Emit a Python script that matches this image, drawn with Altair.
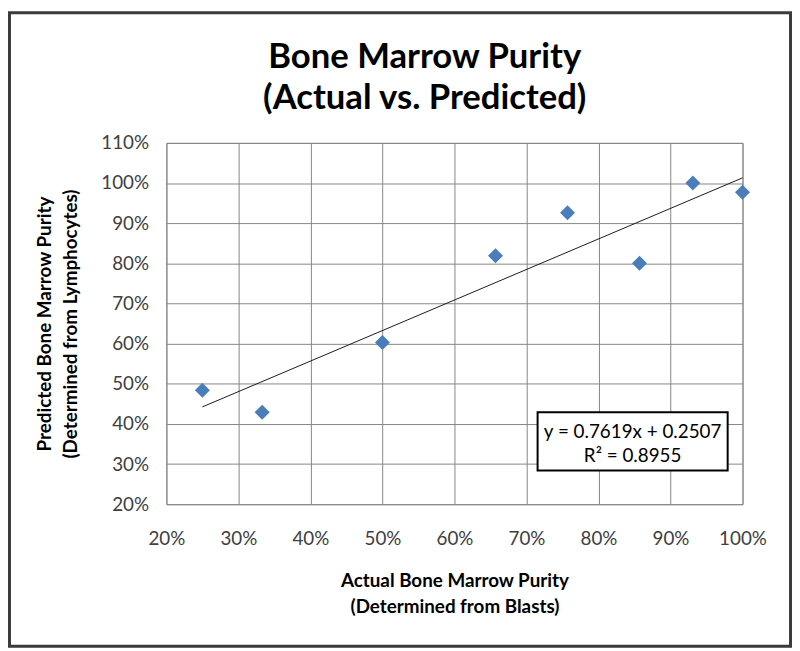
import altair as alt
import pandas as pd

# Data
actual = [0.25, 0.333, 0.50, 0.657, 0.757, 0.857, 0.931, 1.00]
predicted = [0.484, 0.429, 0.603, 0.819, 0.926, 0.800, 1.000, 0.977]
x_ticks = [0.2, 0.3, 0.4, 0.5, 0.6, 0.7, 0.8, 0.9, 1.0]
y_ticks = [0.2, 0.3, 0.4, 0.5, 0.6, 0.7, 0.8, 0.9, 1.0, 1.1]
eq_lines = ["y = 0.7619x + 0.2507", "R² = 0.8955"]
title_lines = ["Bone Marrow Purity", "(Actual vs. Predicted)"]

df = pd.DataFrame({"actual": actual, "predicted": predicted})
FONT = "Lato"
W, H = 582, 365

x_enc = alt.X("actual:Q",
              scale=alt.Scale(domain=[0.2, 1.0], nice=False, zero=False),
              axis=alt.Axis(values=x_ticks, format=".0%", labelFlush=False, labelOverlap=False,
                            title=["Actual Bone Marrow Purity", "(Determined from Blasts)"]))
y_enc = alt.Y("predicted:Q",
              scale=alt.Scale(domain=[0.2, 1.1], nice=False, zero=False),
              axis=alt.Axis(values=y_ticks, format=".0%", labelFlush=False, labelOverlap=False,
                            title=["Predicted Bone Marrow Purity", "(Determined from Lymphocytes)"]))

base = alt.Chart(df)

points = base.mark_point(shape="diamond", filled=True, size=230, color="#4a7ebb", opacity=1).encode(
    x=x_enc, y=y_enc)

trend = base.transform_regression("actual", "predicted").mark_line(
    color="#1a1a1a", strokeWidth=1).encode(x=x_enc, y=y_enc)

one = pd.DataFrame({"k": [0]})
box = alt.Chart(one).mark_rect(fill="white", stroke="black", strokeWidth=2).encode(
    x=alt.value(375), x2=alt.value(567), y=alt.value(272), y2=alt.value(331))
eq1 = alt.Chart(one).mark_text(font=FONT, fontSize=19, color="black").encode(
    x=alt.value(471), y=alt.value(292), text=alt.value(eq_lines[0]))
eq2 = alt.Chart(one).mark_text(font=FONT, fontSize=19, color="black").encode(
    x=alt.value(471), y=alt.value(316), text=alt.value(eq_lines[1]))

t1 = alt.Chart(one).mark_text(font=FONT, fontSize=35, fontWeight="bold", color="black",
                              baseline="alphabetic").encode(
    x=alt.value(261), y=alt.value(-76), text=alt.value(title_lines[0]))
t2 = alt.Chart(one).mark_text(font=FONT, fontSize=35, fontWeight="bold", color="black",
                              baseline="alphabetic").encode(
    x=alt.value(261), y=alt.value(-34), text=alt.value(title_lines[1]))

frame = alt.Chart(one).mark_rect(fillOpacity=0, stroke="#3a3a3a", strokeWidth=3).encode(
    x=alt.value(-158.5), x2=alt.value(630.5), y=alt.value(-131.5), y2=alt.value(508.5))

chart = alt.layer(points, trend, box, eq1, eq2, t1, t2, frame).properties(
    width=W, height=H,
    background="white",
    autosize=alt.AutoSizeParams(type="none"),
    padding={"left": 160, "top": 133, "right": 50, "bottom": 145},
).configure_axis(
    labelFont=FONT, labelFontSize=19, labelColor="#404040",
    titleFont=FONT, titleFontSize=19, titleFontWeight="bold", titleColor="black",
    titleLineHeight=26,
    grid=True, gridColor="#878787", gridWidth=1, gridOpacity=1,
    ticks=False, domain=False,
).configure_axisX(
    labelPadding=26, titlePadding=23,
).configure_axisY(
    labelPadding=18, titlePadding=21,
).configure_view(
    stroke="#878787", strokeWidth=1
)

chart.save("out.html", embed_options={"renderer": "svg", "actions": False})
